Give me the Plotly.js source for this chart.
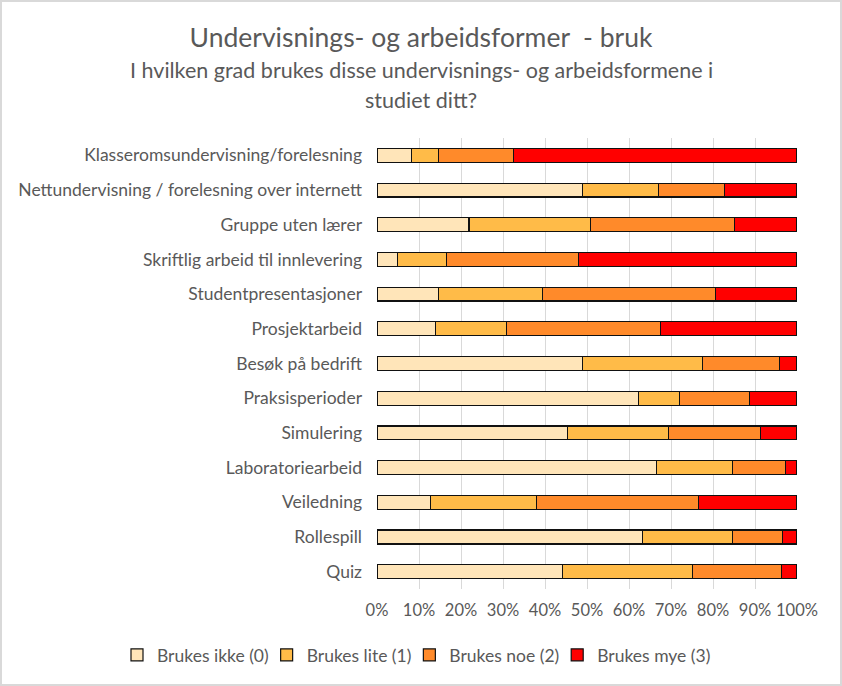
<!DOCTYPE html>
<html>
<head>
<meta charset="utf-8">
<script src="https://cdn.plot.ly/plotly-3.0.1.min.js"></script>
<style>
  html, body { margin: 0; padding: 0; background: #fff; }
  #chart { width: 842px; height: 686px; box-sizing: border-box; border: 2px solid #d9d9d9; }
</style>
</head>
<body>
<div id="chart"></div>
<script>
const categories = [
  "Klasseromsundervisning/forelesning",
  "Nettundervisning / forelesning over internett",
  "Gruppe uten lærer",
  "Skriftlig arbeid til innlevering",
  "Studentpresentasjoner",
  "Prosjektarbeid",
  "Besøk på bedrift",
  "Praksisperioder",
  "Simulering",
  "Laboratoriearbeid",
  "Veiledning",
  "Rollespill",
  "Quiz"
];
const seriesNames = ["Brukes ikke (0)", "Brukes lite (1)", "Brukes noe (2)", "Brukes mye (3)"];
const brukesIkke = [8.3, 49.0, 21.9, 4.9, 14.7, 14.0, 49.0, 62.3, 45.4, 66.6, 12.8, 63.3, 44.2];
const brukesLite = [6.4, 18.1, 29.0, 11.7, 24.7, 16.9, 28.5, 9.8, 24.0, 18.1, 25.2, 21.4, 31.0];
const brukesNoe  = [17.8, 15.7, 34.3, 31.4, 41.2, 36.6, 18.4, 16.6, 21.9, 12.6, 38.6, 11.9, 21.1];
const brukesMye  = [67.5, 17.2, 14.8, 52.0, 19.4, 32.5, 4.1, 11.3, 8.7, 2.7, 23.4, 3.4, 3.7];
const tickValues = [0, 10, 20, 30, 40, 50, 60, 70, 80, 90, 100];
const tickLabels = ["0%", "10%", "20%", "30%", "40%", "50%", "60%", "70%", "80%", "90%", "100%"];
const colors = ["#FFE5B9", "#FFBB48", "#FF8A2A", "#FF0000"];
const allSeries = [brukesIkke, brukesLite, brukesNoe, brukesMye];

const FONT = "Lato, 'Open Sans', sans-serif";
const TXT = "#595959";
const traces = allSeries.map((vals, i) => ({
  type: "bar",
  orientation: "h",
  name: seriesNames[i],
  y: categories,
  x: vals,
  marker: { color: colors[i], line: { color: "#111", width: 1.2 } }
}));

const W = 838, H = 682, ML = 375, MR = 43, MT = 136, MB = 95;
const PW = W - ML - MR, PH = H - MT - MB;
const centerPaperX = (419 - ML) / PW;

const layout = {
  width: W, height: H,
  barmode: "stack",
  bargap: 0.6,
  paper_bgcolor: "#fff",
  plot_bgcolor: "#fff",
  font: { family: FONT, color: TXT, size: 17 },
  margin: { l: ML, r: MR, t: MT, b: MB, pad: 0, autoexpand: false },
  title: {
    text: "Undervisnings- og arbeidsformer  - bruk",
    font: { family: FONT, size: 26.5, color: TXT },
    x: 0.5, xanchor: "center", xref: "container",
    y: 1 - 36 / H, yanchor: "middle", yref: "container"
  },
  annotations: [
    { text: "I hvilken grad brukes disse undervisnings- og arbeidsformene i", xref: "paper", yref: "paper",
      x: centerPaperX, y: 1, xanchor: "center", yanchor: "middle", yshift: 68, showarrow: false,
      font: { family: FONT, size: 21.5, color: TXT } },
    { text: "studiet ditt?", xref: "paper", yref: "paper",
      x: centerPaperX, y: 1, xanchor: "center", yanchor: "middle", yshift: 38, showarrow: false,
      font: { family: FONT, size: 21.5, color: TXT } }
  ],
  xaxis: {
    range: [0, 100],
    tickvals: tickValues,
    ticktext: tickLabels,
    showgrid: true, gridcolor: "#d9d9d9", gridwidth: 1,
    zeroline: false, showline: false, ticks: "",
    ticklabelstandoff: 9,
    tickfont: { family: FONT, size: 16.5, color: TXT },
    fixedrange: true
  },
  yaxis: {
    autorange: "reversed",
    showgrid: false, zeroline: false, showline: false, ticks: "",
    ticklabelstandoff: 14,
    tickfont: { family: FONT, size: 17.5, color: TXT },
    fixedrange: true
  },
  legend: {
    orientation: "h",
    xref: "paper", x: (122 - ML) / PW, xanchor: "left",
    yref: "paper", y: -(653 - (MT + PH)) / PH, yanchor: "middle",
    font: { family: FONT, size: 17.5, color: TXT },
    itemwidth: 30,
    indentation: -7,
    traceorder: "normal"
  },
  showlegend: true
};

Plotly.newPlot("chart", traces, layout, { displayModeBar: false, staticPlot: true });
</script>
</body>
</html>
